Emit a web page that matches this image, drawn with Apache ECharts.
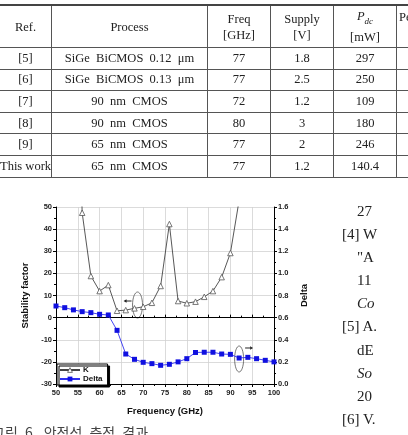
<!DOCTYPE html>
<html>
<head>
<meta charset="utf-8">
<script src="https://cdn.jsdelivr.net/npm/echarts@6/dist/echarts.min.js"></script>
<style>
  html, body { margin: 0; padding: 0; background: #fff; overflow: hidden; }
  body { width: 408px; height: 435px; position: relative; }
  #chart { position: absolute; left: 0; top: 0; width: 408px; height: 435px; }
  .tbl { position: absolute; left: -1px; top: 4px; width: 437px; border-collapse: collapse; table-layout: fixed;
         font-family: "Liberation Serif", "DejaVu Serif", serif; font-size: 12.5px; color: #222; }
  .tbl td { border: 1px solid #555; text-align: center; padding: 0; white-space: nowrap; overflow: visible; }
  .tbl tr.hd td { border-top: 2px solid #444; height: 38px; line-height: 16px; }
  .tbl tr.rw td { height: 20.6px; }
  .refs { position: absolute; left: 342px; top: 200px; font-family: "Liberation Serif", serif;
          font-size: 15px; color: #222; line-height: 23.1px; white-space: nowrap; }
  .cap { position: absolute; left: -8px; top: 422px; font-family: "Noto Sans CJK KR", sans-serif;
         font-size: 14px; line-height: 20px; color: #444; white-space: nowrap; word-spacing: 4px; }
</style>
</head>
<body>
<div id="chart"></div>
<table class="tbl">
  <colgroup><col style="width:52px"><col style="width:156px"><col style="width:63px"><col style="width:63px"><col style="width:63px"><col style="width:40px"></colgroup>
  <tr class="hd"><td>Ref.</td><td>Process</td><td>Freq<br>[GHz]</td><td>Supply<br>[V]</td><td><i>P</i><sub style="font-size:9px"><i>dc</i></sub><br>[mW]</td><td style="text-align:left;vertical-align:top;padding-left:2px;padding-top:3px">Pe</td></tr>
  <tr class="rw"><td>[5]</td><td>SiGe&nbsp; BiCMOS&nbsp; 0.12&nbsp; μm</td><td>77</td><td>1.8</td><td>297</td><td></td></tr>
  <tr class="rw"><td>[6]</td><td>SiGe&nbsp; BiCMOS&nbsp; 0.13&nbsp; μm</td><td>77</td><td>2.5</td><td>250</td><td></td></tr>
  <tr class="rw"><td>[7]</td><td>90&nbsp; nm&nbsp; CMOS</td><td>72</td><td>1.2</td><td>109</td><td></td></tr>
  <tr class="rw"><td>[8]</td><td>90&nbsp; nm&nbsp; CMOS</td><td>80</td><td>3</td><td>180</td><td></td></tr>
  <tr class="rw"><td>[9]</td><td>65&nbsp; nm&nbsp; CMOS</td><td>77</td><td>2</td><td>246</td><td></td></tr>
  <tr class="rw"><td>This work</td><td>65&nbsp; nm&nbsp; CMOS</td><td>77</td><td>1.2</td><td>140.4</td><td></td></tr>
</table>
<div class="refs">
  &nbsp;&nbsp;&nbsp;&nbsp;27<br>[4] W<br>&nbsp;&nbsp;&nbsp;&nbsp;"A<br>&nbsp;&nbsp;&nbsp;&nbsp;11<br>&nbsp;&nbsp;&nbsp;&nbsp;<i>Co</i><br>[5] A.<br>&nbsp;&nbsp;&nbsp;&nbsp;dE<br>&nbsp;&nbsp;&nbsp;&nbsp;<i>So</i><br>&nbsp;&nbsp;&nbsp;&nbsp;20<br>[6] V.<br>&nbsp;&nbsp;&nbsp;&nbsp;<i>fo</i>
</div>
<div class="cap">그림 6. 안정성 측정 결과</div>
<script>
// 주파수 (GHz)
var kFreq = [54, 56, 58, 60, 62, 64, 66, 68, 70, 72, 74, 76, 78, 80, 82, 84, 86, 88, 90, 92, 94];
var kValues = [200, 47.4, 18.8, 12, 14.7, 3.1, 3.4, 4.2, 4.9, 6.7, 14.3, 42.3, 7.5, 6.5, 7.2, 9.4, 12, 18.3, 29.2, 53, 100];
// Delta
var dFreq = [50, 52, 54, 56, 58, 60, 62, 64, 66, 68, 70, 72, 74, 76, 78, 80, 82, 84, 86, 88, 90, 92, 94, 96, 98, 100];
var deltaValues = [0.705, 0.69, 0.67, 0.654, 0.645, 0.63, 0.624, 0.485, 0.271, 0.223, 0.196, 0.184, 0.169, 0.178, 0.2, 0.229, 0.285, 0.287, 0.287, 0.271, 0.268, 0.235, 0.241, 0.229, 0.214, 0.2];

function zip(xs, ys) {
    var out = [];
    for (var i = 0; i < xs.length; i++) out.push([xs[i], ys[i]]);
    return out;
}

var dom = document.getElementById("chart");
var myChart = echarts.init(dom, null, {renderer: 'canvas'});
var lbl = {fontSize: 7.5, fontWeight: 'bold', fontFamily: 'Liberation Sans, Arial', color: '#222'};
var nameStyle = {fontSize: 9.5, fontWeight: 'bold', fontFamily: 'Liberation Sans, Arial', color: '#111'};

var option = {
    animation: false,
    grid: {left: 56, top: 207, width: 218, height: 177},
    legend: {
        left: 57, top: 364, orient: 'vertical', itemGap: 1,
        padding: [2, 5, 2, 2], itemWidth: 20, itemHeight: 6,
        backgroundColor: '#fff', borderColor: '#000', borderWidth: 1,
        shadowColor: '#000', shadowOffsetX: 2, shadowOffsetY: 2, shadowBlur: 0,
        textStyle: {fontSize: 8, fontWeight: 'bold', fontFamily: 'Liberation Sans, Arial', color: '#111', padding: [0, 0, 0, -2]},
        data: [
            {name: 'K', itemStyle: {color: '#fff', borderColor: '#555', borderWidth: 0.8}},
            {name: 'Delta'}
        ]
    },
    xAxis: [{
        type: 'value', min: 50, max: 100, interval: 5,
        name: 'Frequency (GHz)', nameLocation: 'middle', nameGap: 22, nameTextStyle: nameStyle,
        axisLine: {lineStyle: {color: '#000', width: 1}},
        axisTick: {inside: true, length: 3, lineStyle: {color: '#000'}},
        minorTick: {show: true, splitNumber: 2, length: 2, lineStyle: {color: '#000'}},
        splitLine: {show: true, lineStyle: {color: '#d2d2d2', width: 0.8}},
        axisLabel: Object.assign({margin: 5}, lbl)
    }, {
        type: 'value', min: 50, max: 100, interval: 5, position: 'top',
        axisLine: {show: true, lineStyle: {color: '#000', width: 1}},
        axisTick: {inside: true, length: 3, lineStyle: {color: '#000'}},
        minorTick: {show: true, splitNumber: 2, length: 2, lineStyle: {color: '#000'}},
        splitLine: {show: false}, axisLabel: {show: false}
    }],
    yAxis: [{
        type: 'value', min: -30, max: 50, interval: 10,
        name: 'Stability factor', nameLocation: 'middle', nameGap: 22, nameTextStyle: nameStyle,
        axisLine: {show: true, lineStyle: {color: '#000', width: 1}},
        axisTick: {inside: false, length: 3, lineStyle: {color: '#000'}},
        minorTick: {show: true, splitNumber: 2, length: 2, lineStyle: {color: '#000'}},
        splitLine: {show: true, lineStyle: {color: '#d2d2d2', width: 0.8}},
        axisLabel: Object.assign({margin: 4}, lbl)
    }, {
        type: 'value', min: 0, max: 1.6, interval: 0.2, position: 'right',
        name: 'Delta', nameLocation: 'middle', nameGap: 19, nameTextStyle: nameStyle,
        axisLine: {show: true, lineStyle: {color: '#000', width: 1}},
        axisTick: {inside: false, length: 3, lineStyle: {color: '#000'}},
        minorTick: {show: true, splitNumber: 2, length: 2, lineStyle: {color: '#000'}},
        splitLine: {show: false},
        axisLabel: Object.assign({margin: 4, formatter: function (v) { return v.toFixed(1); }}, lbl)
    }],
    series: [{
        name: 'K', type: 'line', xAxisIndex: 0, yAxisIndex: 0,
        data: zip(kFreq, kValues), clip: true,
        symbol: 'triangle', symbolSize: 5.5,
        itemStyle: {color: '#fff', borderColor: '#555', borderWidth: 0.8},
        lineStyle: {color: '#444', width: 0.9}
    }, {
        name: 'Delta', type: 'line', xAxisIndex: 0, yAxisIndex: 1,
        data: zip(dFreq, deltaValues), clip: true,
        symbol: 'rect', symbolSize: 5,
        itemStyle: {color: '#1010e0'},
        lineStyle: {color: '#3030f0', width: 0.9}
    }]
};
myChart.setOption(option, true);

// 타원 + 화살표 표시
var p1 = myChart.convertToPixel({xAxisIndex: 0, yAxisIndex: 0}, [68.7, 5.7]);
var p2 = myChart.convertToPixel({xAxisIndex: 0, yAxisIndex: 1}, [92, 0.226]);
var gs = {stroke: '#555', fill: null, lineWidth: 0.8};
myChart.setOption({
    graphic: [
        {type: 'ellipse', shape: {cx: p1[0], cy: p1[1], rx: 5, ry: 13}, style: gs},
        {type: 'line', shape: {x1: p1[0] - 6, y1: p1[1] - 4, x2: p1[0] - 12, y2: p1[1] - 4}, style: {stroke: '#222', lineWidth: 1}},
        {type: 'polygon', shape: {points: [[p1[0] - 14, p1[1] - 4], [p1[0] - 11, p1[1] - 5.8], [p1[0] - 11, p1[1] - 2.2]]}, style: {fill: '#222'}},
        {type: 'ellipse', shape: {cx: p2[0], cy: p2[1], rx: 4.5, ry: 13}, style: gs},
        {type: 'line', shape: {x1: p2[0] + 6, y1: p2[1] - 11, x2: p2[0] + 11, y2: p2[1] - 11}, style: {stroke: '#222', lineWidth: 1}},
        {type: 'polygon', shape: {points: [[p2[0] + 14, p2[1] - 11], [p2[0] + 11, p2[1] - 12.8], [p2[0] + 11, p2[1] - 9.2]]}, style: {fill: '#222'}}
    ]
});
</script>
</body>
</html>
